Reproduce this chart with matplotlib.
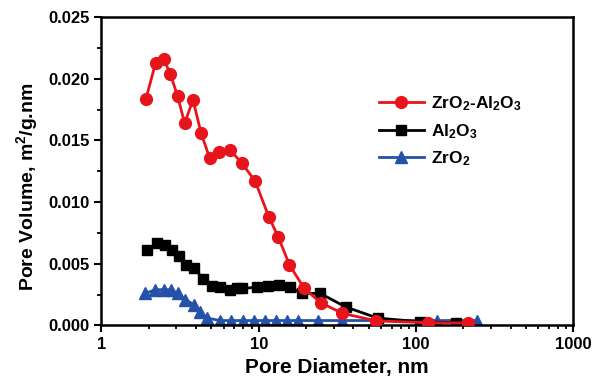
import matplotlib
matplotlib.use("Agg")
import matplotlib.pyplot as plt
from matplotlib.ticker import LogLocator, MultipleLocator, FixedLocator, FixedFormatter

plt.rcParams.update({
    "font.family": "Liberation Sans",
    "font.weight": "bold",
    "mathtext.fontset": "custom",
    "mathtext.rm": "Liberation Sans:bold",
    "mathtext.bf": "Liberation Sans:bold",
    "mathtext.default": "bf",
})

RED = "#E8141B"
BLUE = "#2452A8"

# ZrO2-Al2O3
d_mix = [1.92, 2.21, 2.49, 2.74, 3.05, 3.38, 3.82, 4.30, 4.87, 5.61, 6.59, 7.78, 9.5,
         11.6, 13.3, 15.7, 19.5, 24.8, 34.0, 56.0, 120, 215]
v_mix = [0.0184, 0.0213, 0.0216, 0.0204, 0.0186, 0.0164, 0.0183, 0.0156, 0.0136, 0.0141,
         0.0142, 0.0132, 0.0117, 0.0088, 0.0072, 0.0049, 0.0030, 0.00185, 0.00099,
         0.00037, 0.00022, 0.0002]

# Al2O3
d_al = [1.95, 2.26, 2.55, 2.81, 3.09, 3.46, 3.86, 4.42, 5.04, 5.69, 6.53, 7.25, 7.84,
        9.73, 11.4, 13.5, 15.8, 18.8, 24.6, 35.8, 57, 106, 181]
v_al = [0.0061, 0.0067, 0.0065, 0.0061, 0.0056, 0.0049, 0.0047, 0.0038, 0.0032, 0.0031,
        0.0029, 0.0030, 0.0030, 0.0031, 0.0032, 0.0033, 0.0031, 0.0026, 0.0026, 0.0015,
        0.0006, 0.0003, 0.00023]

# ZrO2
d_zr = [1.9, 2.2, 2.49, 2.77, 3.05, 3.41, 3.86, 4.25, 4.69, 5.7, 6.7, 7.96, 9.3, 11.0,
        12.9, 15.1, 17.9, 23.7, 33.8, 55, 136, 243]
v_zr = [0.0026, 0.0029, 0.0029, 0.0029, 0.0026, 0.0021, 0.0017, 0.0011, 0.0006, 0.0004,
        0.0004, 0.0004, 0.0004, 0.0004, 0.0004, 0.0004, 0.0004, 0.0004, 0.0004, 0.0004,
        0.0004, 0.0004]

y_ticks = [0.000, 0.005, 0.010, 0.015, 0.020, 0.025]
x_ticks = [1, 10, 100, 1000]

fig = plt.figure(figsize=(5.97, 3.82), dpi=100)
ax = fig.add_axes([0.170, 0.148, 0.790, 0.807])

ax.plot(d_mix, v_mix, color=RED, marker="o", markersize=8.5, linewidth=2,
        label=r"ZrO$_2$-Al$_2$O$_3$", zorder=3)
ax.plot(d_al, v_al, color="black", marker="s", markersize=7, linewidth=2,
        label=r"Al$_2$O$_3$", zorder=2)
ax.plot(d_zr, v_zr, color=BLUE, marker="^", markersize=8.5, linewidth=2,
        label=r"ZrO$_2$", zorder=1)

ax.set_xscale("log")
ax.set_xlim(1, 1000)
ax.set_ylim(0, 0.025)
ax.xaxis.set_major_locator(FixedLocator(x_ticks))
ax.xaxis.set_major_formatter(FixedFormatter([str(t) for t in x_ticks]))
ax.xaxis.set_minor_locator(LogLocator(base=10, subs=range(2, 10)))
ax.xaxis.set_minor_formatter(FixedFormatter([]))
ax.set_yticks(y_ticks)
ax.set_yticklabels([f"{t:.3f}" for t in y_ticks])
ax.yaxis.set_minor_locator(MultipleLocator(0.0025))

for s in ax.spines.values():
    s.set_linewidth(1.8)
ax.tick_params(which="major", direction="out", length=5, width=1.5, labelsize=12,
               top=False, right=False)
ax.tick_params(which="minor", direction="out", length=3, width=1.3, top=False, right=False)

ax.set_xlabel("Pore Diameter, nm", fontsize=15, fontweight="bold", labelpad=4)
ax.set_ylabel(r"Pore Volume, m$^2$/g.nm", fontsize=14, fontweight="bold")
ax.yaxis.set_label_coords(-0.13, 0.45)

ax.legend(loc="upper left", bbox_to_anchor=(0.555, 0.80), frameon=False, fontsize=12.5,
          handlelength=2.6, labelspacing=0.5, handletextpad=0.4)

fig.savefig("out.png", dpi=100)
